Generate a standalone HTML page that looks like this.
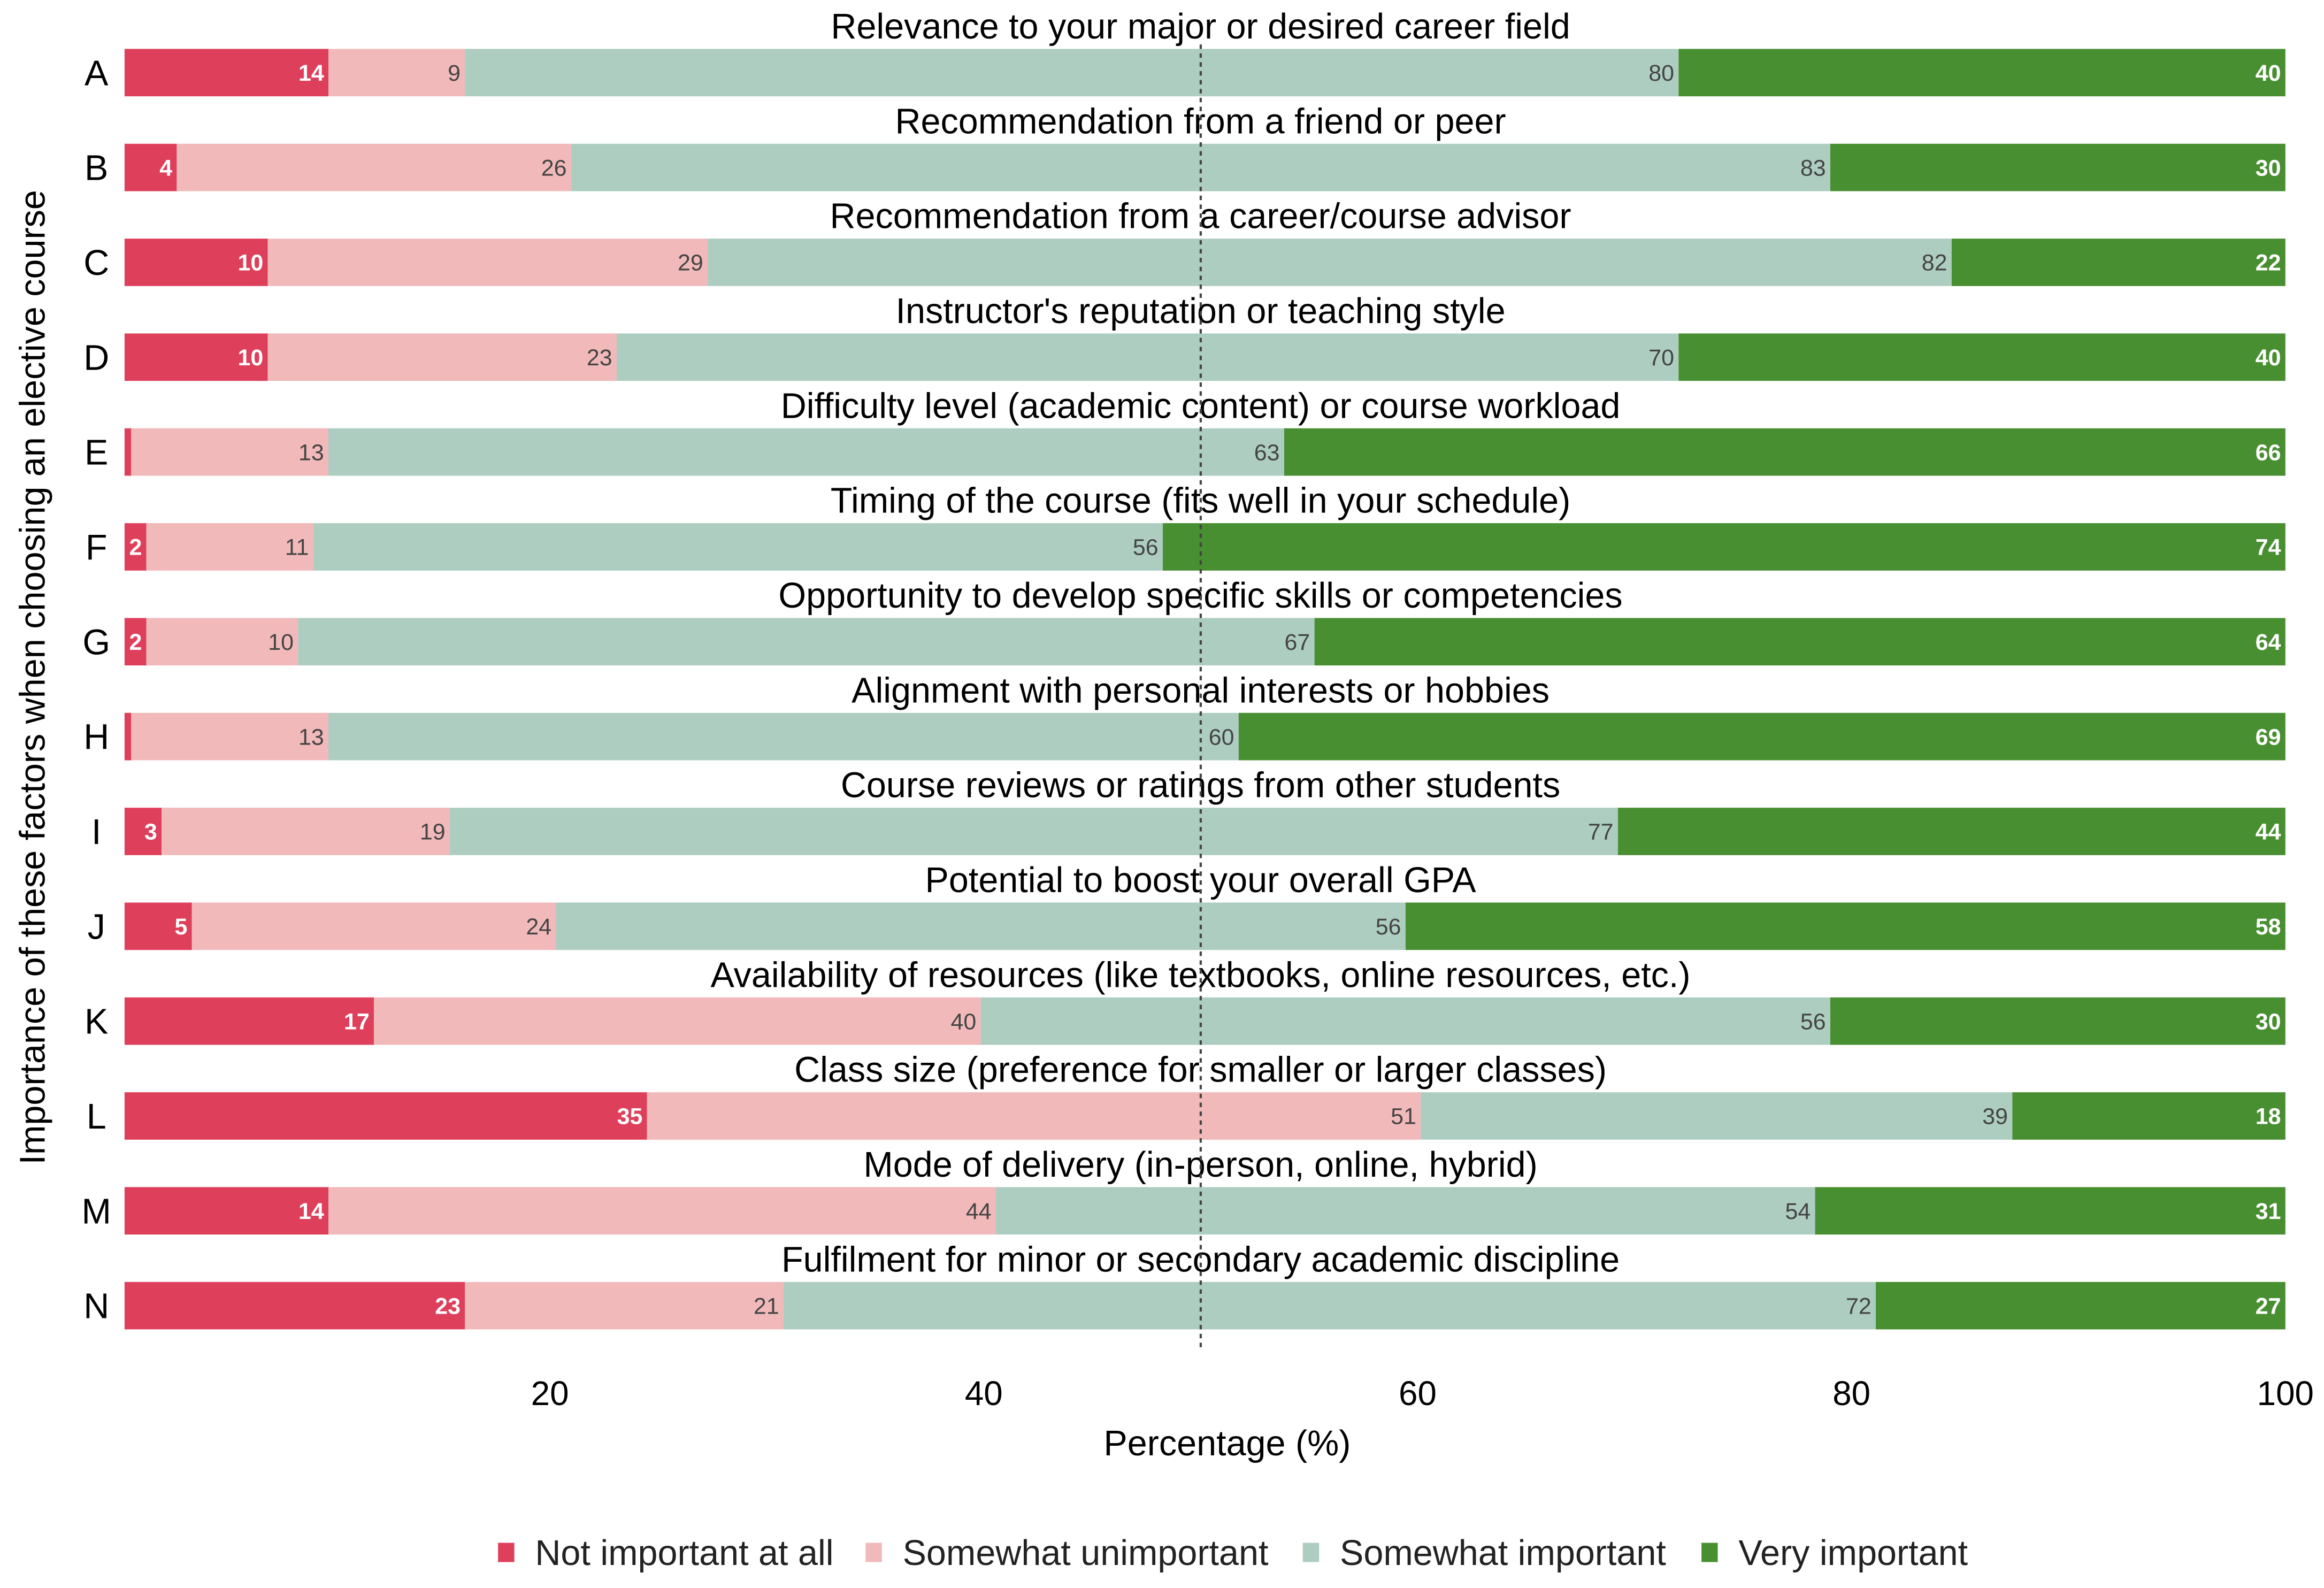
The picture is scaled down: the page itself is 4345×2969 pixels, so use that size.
<!DOCTYPE html>
<html><head><meta charset="utf-8"><style>
html,body{margin:0;padding:0;background:#fff;}
svg{display:block;font-family:"Liberation Sans",Arial,sans-serif;}
</style></head><body>
<svg id="chart" width="4345" height="2969" viewBox="0 0 1568 1071.5" xmlns="http://www.w3.org/2000/svg">
<defs><clipPath id="plotclip"><rect x="84" y="0" width="1470" height="1071"/></clipPath></defs>
<g id="bars" clip-path="url(#plotclip)"></g>
<g id="overlay"></g>
</svg>
<script>
const rowLabels = ["A","B","C","D","E","F","G","H","I","J","K","L","M","N"];
const titles = [
"Relevance to your major or desired career field",
"Recommendation from a friend or peer",
"Recommendation from a career/course advisor",
"Instructor's reputation or teaching style",
"Difficulty level (academic content) or course workload",
"Timing of the course (fits well in your schedule)",
"Opportunity to develop specific skills or competencies",
"Alignment with personal interests or hobbies",
"Course reviews or ratings from other students",
"Potential to boost your overall GPA",
"Availability of resources (like textbooks, online resources, etc.)",
"Class size (preference for smaller or larger classes)",
"Mode of delivery (in-person, online, hybrid)",
"Fulfilment for minor or secondary academic discipline"];
const notImportant = [14,4,10,10,1,2,2,1,3,5,17,35,14,23];
const somewhatUnimportant = [9,26,29,23,13,11,10,13,19,24,40,51,44,21];
const somewhatImportant = [80,83,82,70,63,56,67,60,77,56,56,39,54,72];
const veryImportant = [40,30,22,40,66,74,64,69,44,58,30,18,31,27];
const seriesNames = ["Not important at all","Somewhat unimportant","Somewhat important","Very important"];
const xTicks = [20,40,60,80,100];

const colors = ["#de405b","#f1b9ba","#adcdc1","#488f31"];
const textCols = ["#fff","#444","#444","#fff"];
const NS = "http://www.w3.org/2000/svg";
const x = p => 78.25 + p * 14.6375;
const yc = i => 49 + i * 64;
const barH = 32;
function mk(tag, attrs, parent, txt){
  const e = document.createElementNS(NS, tag);
  for (const k in attrs) e.setAttribute(k, attrs[k]);
  if (txt !== undefined) e.textContent = txt;
  parent.appendChild(e); return e;
}
const bars = document.getElementById('bars');
const ov = document.getElementById('overlay');
const series = [notImportant, somewhatUnimportant, somewhatImportant, veryImportant];
rowLabels.forEach((lab, i) => {
  const vals = series.map(s => s[i]);
  const tot = vals.reduce((a,b)=>a+b,0);
  let cum = 0;
  vals.forEach((v, k) => {
    const p0 = cum / tot * 100; cum += v; const p1 = cum / tot * 100;
    const r = mk('rect', {x: x(p0), y: yc(i) - barH/2, width: x(p1) - x(p0), height: barH, fill: colors[k]}, bars);
    
    
    if (v >= 2) {
      const t = mk('text', {x: x(p1) - 3, y: yc(i) + 5.5, 'text-anchor': 'end', 'font-size': 15.5, fill: textCols[k], 'font-weight': (k===0||k===3)?'bold':'normal'}, ov, String(v));
      
      
    }
  });
  const rl = mk('text', {x: 65, y: yc(i) + 8.5, 'text-anchor': 'middle', 'font-size': 24, fill: '#000'}, ov, lab);
  
  
  const tt = mk('text', {x: 810, y: yc(i) - 23, 'text-anchor': 'middle', 'font-size': 24, fill: '#000'}, ov, titles[i]);
  
  
});
const dl = mk('line', {x1: x(50), x2: x(50), y1: 30, y2: 912, stroke: '#444', 'stroke-width': 1.5, 'stroke-dasharray': '3,3'}, ov);


xTicks.forEach(v => {
  const t = mk('text', {x: x(v), y: 948, 'text-anchor': 'middle', 'font-size': 23, fill: '#000'}, ov, String(v));
  
  
});
const xt = mk('text', {x: 828, y: 982, 'text-anchor': 'middle', 'font-size': 24, fill: '#000'}, ov, 'Percentage (%)');


const yt = mk('text', {x: 0, y: 0, 'text-anchor': 'middle', 'font-size': 24, fill: '#000', transform: 'translate(30,457) rotate(-90)'}, ov, 'Importance of these factors when choosing an elective course');


const legX = [336, 584, 879, 1148];
seriesNames.forEach((n, k) => {
  const g = mk('g', {}, ov);
  
  
  mk('rect', {x: legX[k], y: 1041, width: 11, height: 13, fill: colors[k]}, g);
  mk('text', {x: legX[k] + 25, y: 1056, 'font-size': 24, fill: '#222'}, g, n);
});
</script>
</body></html>
